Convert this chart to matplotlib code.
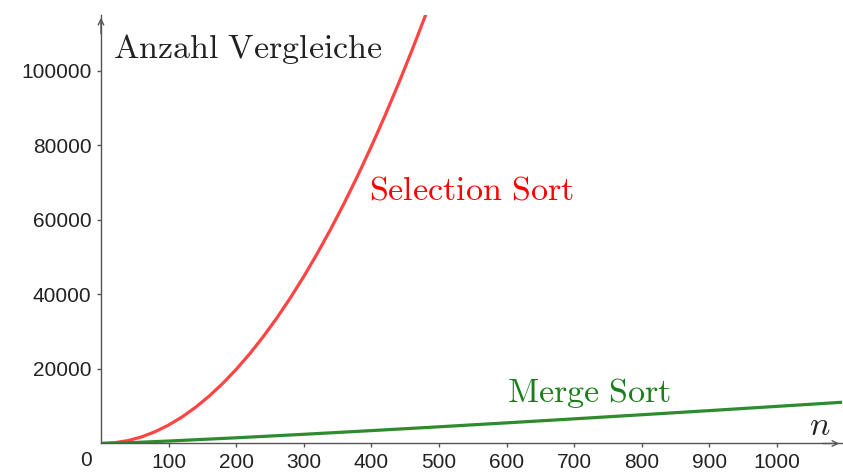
import matplotlib.pyplot as plt

plt.rcParams['mathtext.fontset'] = 'cm'
plt.rcParams['font.family'] = ['Liberation Sans', 'DejaVu Sans']

# Anzahl Vergleiche
sel_n = [0, 20, 40, 60, 80, 100, 120, 140, 160, 180, 200, 220, 240,
         260, 280, 300, 320, 340, 360, 380, 400, 420, 440, 460, 480, 490]
sel_vgl = [0, 190, 780, 1770, 3160, 4950, 7140, 9730, 12720, 16110,
           19900, 24090, 28680, 33670, 39060, 44850, 51040, 57630,
           64620, 72010, 79800, 87990, 96580, 105570, 114960, 119800]

merge_n = [0, 50, 100, 200, 300, 400, 500, 600, 700, 800, 900, 1000, 1100]
merge_vgl = [0, 280, 660, 1530, 2470, 3460, 4480, 5540, 6620, 7720,
             8830, 9970, 11110]

xticks = [100, 200, 300, 400, 500, 600, 700, 800, 900, 1000]
yticks = [20000, 40000, 60000, 80000, 100000]

fig = plt.figure(figsize=(8.43, 4.72), dpi=100)
ax = fig.add_axes([0.1198, 0.0604, 0.8790, 0.9076])

ax.plot(sel_n, sel_vgl, color='#ff4444', lw=2.3, solid_capstyle='butt')
ax.plot(merge_n, merge_vgl, color='#2e8b2e', lw=2.3, solid_capstyle='butt')

ax.set_xlim(0, 1096)
ax.set_ylim(0, 115000)

for s in ['top', 'right']:
    ax.spines[s].set_visible(False)
for s in ['left', 'bottom']:
    ax.spines[s].set_color('#555555')
    ax.spines[s].set_linewidth(1.0)

ax.set_xticks(xticks)
ax.set_yticks(yticks)
ax.set_xticklabels([str(v) for v in xticks])
ax.set_yticklabels([str(v) for v in yticks])
ax.tick_params(axis='both', length=3, width=1, color='#555555',
               labelsize=15, labelcolor='#222222', pad=4)

# Pfeilspitzen an den Achsen
ax.annotate('', xy=(1.0, 0), xytext=(0.97, 0), xycoords='axes fraction',
            arrowprops=dict(arrowstyle='->', color='#555555', lw=1.0),
            annotation_clip=False)
ax.annotate('', xy=(0, 1.0), xytext=(0, 0.95), xycoords='axes fraction',
            arrowprops=dict(arrowstyle='->', color='#555555', lw=1.0),
            annotation_clip=False)

# Ursprung "0" links unten wie in GeoGebra
ax.text(-0.02, -0.018, '0', transform=ax.transAxes, ha='center', va='top',
        fontsize=15, color='#222222')

ax.text(18, 103500, r'$\mathrm{Anzahl\ Vergleiche}$', ha='left',
        va='baseline', fontsize=24.5, color='#222222')
ax.text(1047, 2300, r'$n$', ha='left', va='baseline',
        fontsize=24.5, color='#222222')
ax.text(397, 65400, r'$\mathrm{Selection\ Sort}$', ha='left', va='baseline',
        fontsize=24.5, color='#ff0000')
ax.text(600, 11100, r'$\mathrm{Merge\ Sort}$', ha='left', va='baseline',
        fontsize=24.5, color='#1a7f1a')

fig.savefig('out.png', dpi=100)
